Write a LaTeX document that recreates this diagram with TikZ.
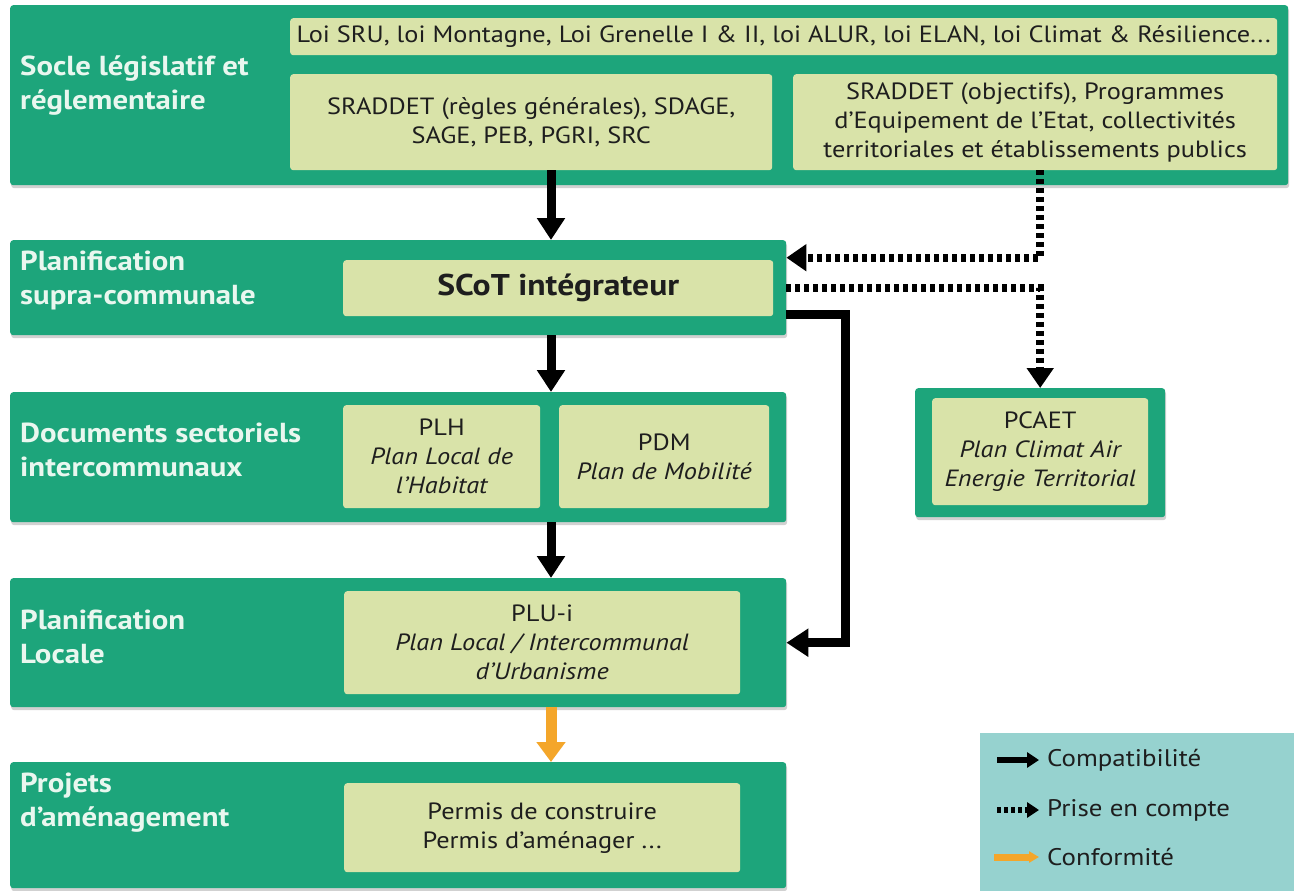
\documentclass[tikz,border=0pt]{standalone}
\usepackage{fontspec}
\setmainfont{PT Sans}[FakeStretch=1.12]
\usetikzlibrary{arrows.meta,shadows,calc}
\definecolor{bandgreen}{HTML}{1DA57B}
\definecolor{boxbeige}{HTML}{D9E3A9}
\definecolor{legendbg}{HTML}{96D2CF}
\definecolor{labelcol}{HTML}{E9F7EF}
\definecolor{arrorange}{HTML}{F4A62A}
\definecolor{txt}{HTML}{1E1E1E}
\begin{document}
\begin{tikzpicture}[x=1pt,y=-1pt,
  band/.style={fill=bandgreen, rounded corners=3pt, anchor=north west, inner sep=0pt,
    drop shadow={shadow xshift=1pt,shadow yshift=-3pt,opacity=0.18,fill=black}},
  ibox/.style={fill=boxbeige, rounded corners=3pt, anchor=north west, inner sep=0pt,
    align=center, text=txt, font=\fontsize{23.5}{29}\selectfont},
  lbl/.style={text=labelcol, font=\bfseries\fontsize{27.5}{34}\selectfont, align=left, anchor=west, inner sep=0pt},
  legtxt/.style={text=txt, font=\fontsize{24}{26}\selectfont, anchor=west, inner sep=0pt},
  comp/.style={line width=9pt, draw=black, -{Triangle[width=27pt,length=22pt]}},
  prise/.style={line width=8pt, draw=black, dash pattern=on 5pt off 4pt, -{Triangle[width=26pt,length=20pt]}},
  conf/.style={line width=11pt, draw=arrorange, -{Triangle[width=28pt,length=20pt,fill=arrorange]}}
]
\useasboundingbox (0,0) rectangle (1294,891);
\fill[white] (0,0) rectangle (1294,891);

% bands
\node[band, minimum width=1278pt, minimum height=180pt] (b1) at (10,5) {};
\node[band, minimum width=776pt, minimum height=95pt] (scotband) at (10,240) {};
\node[band, minimum width=776pt, minimum height=130pt] (docband) at (10,392) {};
\node[band, minimum width=776pt, minimum height=129pt] (pluband) at (10,578) {};
\node[band, minimum width=776pt, minimum height=126pt] (projband) at (10,762) {};
\node[band, minimum width=250pt, minimum height=129pt] (pcaetband) at (915,388) {};

% legend
\node[fill=legendbg, anchor=north west, inner sep=0pt, minimum width=314pt, minimum height=158pt] (legend) at (980,733) {};

% labels
\node[lbl] (l1) at (20,86) {Socle législatif et\\réglementaire};
\node[lbl] (l2) at (20,280) {Planification\\supra-communale};
\node[lbl] (l3) at (20,450) {Documents sectoriels\\intercommunaux};
\node[lbl] (l4) at (20,637) {Planification\\Locale};
\node[lbl] (l5) at (20,803) {Projets\\d’aménagement};

% inner boxes
\node[ibox, minimum width=987pt, minimum height=37pt] (loi) at (290,18)
  {Loi SRU, loi Montagne, Loi Grenelle I \& II, loi ALUR, loi ELAN, loi Climat \& Résilience...};
\node[ibox, minimum width=482pt, minimum height=96pt] (sr1) at (290,74)
  {SRADDET (règles générales), SDAGE,\\SAGE, PEB, PGRI, SRC};
\node[ibox, minimum width=484pt, minimum height=96pt] (sr2) at (793,74)
  {SRADDET (objectifs), Programmes\\d’Equipement de l’Etat, collectivités\\territoriales et établissements publics};
\node[ibox, minimum width=430pt, minimum height=56pt, font=\bfseries\fontsize{30}{32}\selectfont] (scot) at (343,260)
  {SCoT intégrateur};
\node[ibox, minimum width=197pt, minimum height=103pt] (plh) at (343,405)
  {PLH\\\itshape Plan Local de\\\itshape l’Habitat};
\node[ibox, minimum width=210pt, minimum height=103pt] (pdm) at (559,405)
  {PDM\\\itshape Plan de Mobilité};
\node[ibox, minimum width=396pt, minimum height=103pt] (plu) at (344,591)
  {PLU-i\\\itshape Plan Local / Intercommunal\\\itshape d’Urbanisme};
\node[ibox, minimum width=396pt, minimum height=89pt] (perm) at (344,783)
  {Permis de construire\\Permis d’aménager ...};
\node[ibox, minimum width=216pt, minimum height=107pt] (pcaet) at (932,398)
  {PCAET\\\itshape Plan Climat Air\\\itshape Energie Territorial};

% connectors
\coordinate (ax) at (551,0);
\coordinate (bx) at (845,0);
\draw[comp] (sr1.south -| ax) -- (scotband.north -| ax);
\draw[comp] (scotband.south -| ax) -- (docband.north -| ax);
\draw[comp] (docband.south -| ax) -- (pluband.north -| ax);
\draw[conf] (pluband.south -| ax) -- (projband.north -| ax);
\draw[comp, line join=miter] ([yshift=-27pt]scotband.east) -| (bx |- pluband.east) -- (pluband.east);
\draw[prise, line join=miter] (sr2.south -| pcaetband.north) |- ([yshift=30pt]scotband.east);
\draw[prise, line join=miter] (scotband.east) -| (pcaetband.north);

% legend entries
\node[legtxt] (lg1) at (1047,760) {Compatibilité};
\node[legtxt] (lg2) at (1047,810) {Prise en compte};
\node[legtxt] (lg3) at (1047,857) {Conformité};
\coordinate (lg1s) at (997,760);
\coordinate (lg2s) at (997,810);
\coordinate (lg3s) at (994,857);
\draw[line width=6pt, -{Triangle[width=15pt,length=12pt]}] (lg1s) -- ([xshift=-8pt]lg1.west);
\draw[line width=6pt, dash pattern=on 4pt off 3pt, -{Triangle[width=15pt,length=12pt]}] (lg2s) -- ([xshift=-8pt]lg2.west);
\draw[line width=7pt, draw=arrorange, -{Triangle[width=11pt,length=10pt,fill=arrorange]}] (lg3s) -- ([xshift=-8pt]lg3.west);
\end{tikzpicture}
\end{document}
